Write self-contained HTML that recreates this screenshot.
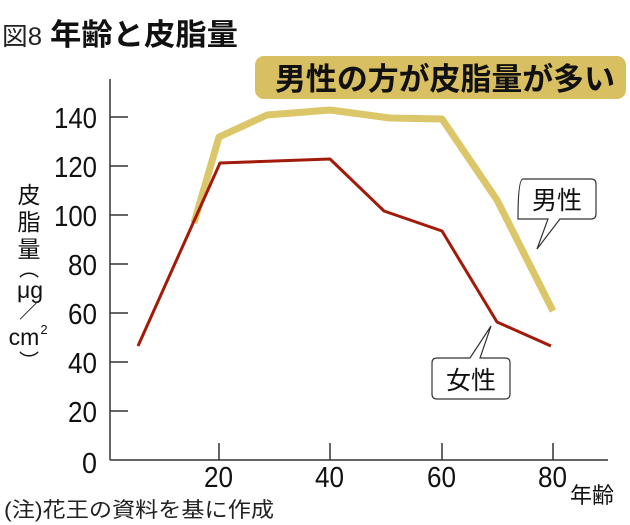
<!DOCTYPE html>
<html><head><meta charset="utf-8"><style>
html,body{margin:0;padding:0;background:#fff;width:630px;height:525px;overflow:hidden}
svg text{font-family:"Liberation Sans","Noto Sans CJK JP",sans-serif}
</style></head><body>
<svg width="630" height="525" viewBox="0 0 630 525" xmlns="http://www.w3.org/2000/svg">
<text x="2" y="45" font-size="25" fill="#222" textLength="40" lengthAdjust="spacingAndGlyphs">図8</text>
<text x="50" y="45" font-size="30" font-weight="bold" fill="#111" textLength="188" lengthAdjust="spacingAndGlyphs">年齢と皮脂量</text>
<rect x="255" y="56" width="371" height="43" rx="9" fill="#d8bf62"/>
<text x="275" y="90" font-size="31" font-weight="bold" fill="#111" textLength="340" lengthAdjust="spacingAndGlyphs">男性の方が皮脂量が多い</text>
<g stroke="#333" stroke-width="1.5" fill="none">
<line x1="110" y1="79" x2="110" y2="460"/>
<line x1="110" y1="460" x2="608" y2="460"/>
<line x1="110" y1="117" x2="128" y2="117"/>
<line x1="110" y1="166" x2="128" y2="166"/>
<line x1="110" y1="215" x2="128" y2="215"/>
<line x1="110" y1="264" x2="128" y2="264"/>
<line x1="110" y1="313" x2="128" y2="313"/>
<line x1="110" y1="362" x2="128" y2="362"/>
<line x1="110" y1="411" x2="128" y2="411"/>
<line x1="219" y1="443" x2="219" y2="460"/>
<line x1="330" y1="443" x2="330" y2="460"/>
<line x1="442" y1="443" x2="442" y2="460"/>
<line x1="553" y1="443" x2="553" y2="460"/>
</g>
<g font-size="29" fill="#111">
<text x="54" y="128" textLength="43" lengthAdjust="spacingAndGlyphs">140</text>
<text x="54" y="177" textLength="43" lengthAdjust="spacingAndGlyphs">120</text>
<text x="54" y="226" textLength="43" lengthAdjust="spacingAndGlyphs">100</text>
<text x="68" y="275" textLength="29" lengthAdjust="spacingAndGlyphs">80</text>
<text x="68" y="324" textLength="29" lengthAdjust="spacingAndGlyphs">60</text>
<text x="68" y="373" textLength="29" lengthAdjust="spacingAndGlyphs">40</text>
<text x="68" y="422" textLength="29" lengthAdjust="spacingAndGlyphs">20</text>
<text x="82" y="473" textLength="15" lengthAdjust="spacingAndGlyphs">0</text>
<text x="204" y="487" textLength="29" lengthAdjust="spacingAndGlyphs">20</text>
<text x="315" y="487" textLength="29" lengthAdjust="spacingAndGlyphs">40</text>
<text x="427" y="487" textLength="29" lengthAdjust="spacingAndGlyphs">60</text>
<text x="538" y="487" textLength="29" lengthAdjust="spacingAndGlyphs">80</text>
</g>
<text x="570" y="503" font-size="22" fill="#111">年齢</text>
<text x="4" y="517" font-size="21" fill="#222" textLength="270" lengthAdjust="spacingAndGlyphs">(注)花王の資料を基に作成</text>
<g font-size="23" fill="#111" text-anchor="middle">
<text x="29" y="203">皮</text>
<text x="29" y="230">脂</text>
<text x="29" y="257">量</text>
<text x="29" y="276" font-size="20">︵</text>
<text x="30" y="298">μg</text>
<text x="29" y="318" font-size="20">／</text>
<text x="24" y="345">cm</text>
<text x="44" y="334" font-size="13">2</text>
<text x="29" y="368" font-size="20">︶</text>
</g>
<polyline points="194,223 219,137 267,115 330,110 390,118 442,119 497,200 553,311" fill="none" stroke="#dcc66a" stroke-width="7" stroke-linejoin="round"/>
<polyline points="138,346 220,163 330,159 384,211 442,231 497,322 551,346" fill="none" stroke="#a11a0a" stroke-width="3" stroke-linejoin="round"/>
<path d="M523,219 L518,219 Q518,179 523,179 L591,179 Q596,179 596,184 L596,214 Q596,219 591,219 L560,219 L537,249 L548,219 Z" fill="#fff" stroke="#333" stroke-width="1.2"/>
<text x="557" y="209" font-size="25" fill="#111" text-anchor="middle">男性</text>
<path d="M437,358 L470,358 L491,326 L480,358 L505,358 Q510,358 510,363 L510,394 Q510,399 505,399 L437,399 Q432,399 432,394 L432,363 Q432,358 437,358 Z" fill="#fff" stroke="#333" stroke-width="1.2"/>
<text x="471" y="389" font-size="25" fill="#111" text-anchor="middle">女性</text>
</svg>
</body></html>
